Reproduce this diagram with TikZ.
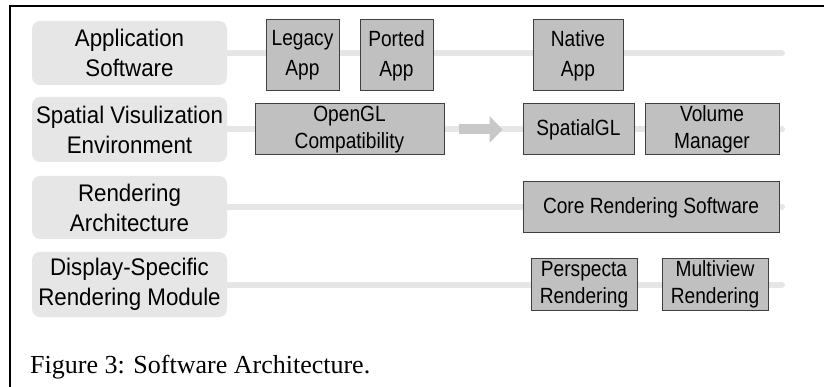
\documentclass[tikz,border=0pt]{standalone}
\usepackage{fontspec}
\setmainfont{Liberation Serif}
\setsansfont{Liberation Sans}[FakeStretch=0.93]
\newfontfamily\compfont{Liberation Sans}[FakeStretch=0.87]
\usetikzlibrary{arrows.meta}
\definecolor{layergray}{RGB}{230,230,230}
\definecolor{boxgray}{RGB}{192,192,192}
\definecolor{edgegray}{RGB}{64,64,64}
\definecolor{arrowgray}{RGB}{200,200,200}
\tikzset{
  layerbox/.style={fill=layergray,draw=none,rounded corners=8pt,align=center,
    inner sep=0pt,font=\sffamily\fontsize{24}{30}\selectfont},
  compbox/.style={fill=boxgray,draw=edgegray,line width=1pt,align=center,
    inner sep=0pt,font=\compfont\fontsize{22}{27}\selectfont},
  tallbox/.style={compbox,font=\compfont\fontsize{22}{30}\selectfont},
  rowline/.style={draw=layergray,line width=6pt,line cap=round},
  flowarrow/.style={draw=arrowgray,line width=10pt,
    -{Triangle[length=13pt,width=26pt]}},
  frameline/.style={line width=1.5pt}
}

\begin{document}
\begin{tikzpicture}[x=1pt,y=-1pt]
    \useasboundingbox (0,0) rectangle (824,387);
    \draw[frameline] (824,6) -- (10,6) -- (10,387);
    % layer labels
    \node[layerbox,minimum width=195pt,minimum height=64pt] (app)    at (129.5,53)    {Application\\Software};
    \node[layerbox,minimum width=195pt,minimum height=65pt] (sve)    at (129.5,129.5) {Spatial Visulization\\Environment};
    \node[layerbox,minimum width=195pt,minimum height=63pt] (render) at (129.5,207.5) {Rendering\\Architecture};
    \node[layerbox,minimum width=195pt,minimum height=65pt] (dsrm)   at (129.5,284.5) {Display-Specific\\Rendering Module};
    \coordinate (append)    at (782,53);
    \coordinate (sveend)    at (782,129.5);
    \coordinate (renderend) at (782,207.5);
    \coordinate (dsrmend)   at (782,284.5);
    \draw[rowline] (app.east) -- (append);
    \draw[rowline] (sve.east) -- (sveend);
    \draw[rowline] (render.east) -- (renderend);
    \draw[rowline] (dsrm.east) -- (dsrmend);
    % components
    \node[tallbox,minimum width=73pt,minimum height=71pt]  (legacy)    at (302.5,55.5)  {Legacy\\App};
    \node[tallbox,minimum width=73pt,minimum height=71pt]  (ported)    at (396.5,55.5)  {Ported\\App};
    \node[tallbox,minimum width=90pt,minimum height=71pt]  (native)    at (578,55.5)    {Native\\App};
    \node[compbox,minimum width=189pt,minimum height=51pt] (opengl)    at (349.5,129.5) {OpenGL\\Compatibility};
    \node[compbox,minimum width=111pt,minimum height=51pt] (spatialgl) at (578.5,129.5) {SpatialGL};
    \node[compbox,minimum width=134pt,minimum height=51pt] (volume)    at (712,129.5)   {Volume\\Manager};
    \node[compbox,minimum width=256pt,minimum height=51pt] (core)      at (651,207.5)   {Core Rendering Software};
    \node[compbox,minimum width=106pt,minimum height=51pt] (perspecta) at (584,284.5)   {Perspecta\\Rendering};
    \node[compbox,minimum width=106pt,minimum height=51pt] (multiview) at (715,284.5)   {Multiview\\Rendering};
    \draw[flowarrow,shorten <=14pt,shorten >=20pt] (opengl.east) -- (spatialgl.west);
    % caption
    \node[anchor=base west,inner sep=0pt,font=\fontsize{26}{30}\selectfont] (caption) at (30,373) {Figure 3: Software Architecture.};
\end{tikzpicture}
\end{document}
